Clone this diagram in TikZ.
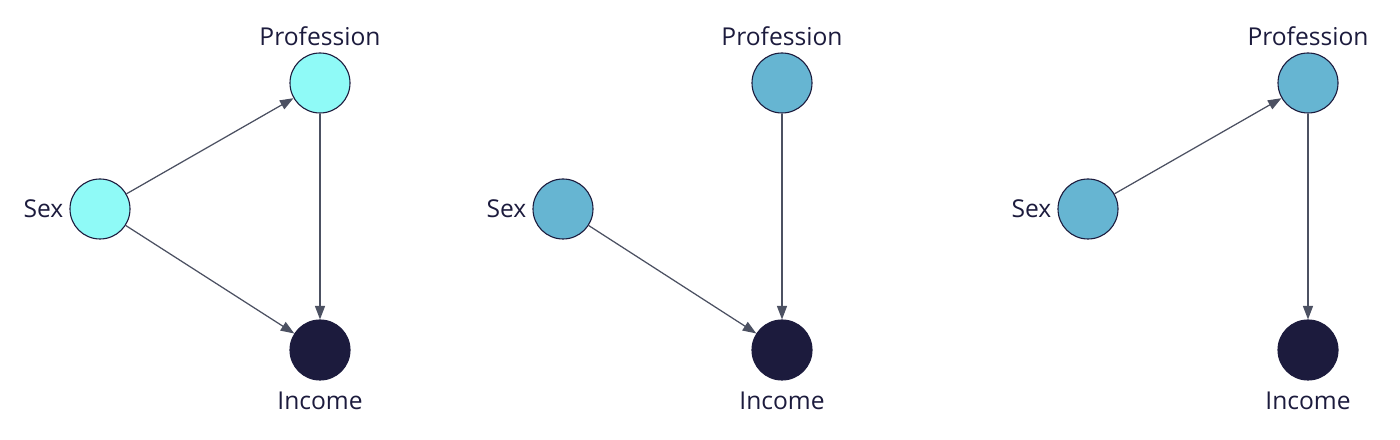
\documentclass[tikz,border=0pt]{standalone}
\usepackage{fontspec}
\setmainfont{Open Sans}
\usepackage{tikz}
\usetikzlibrary{arrows.meta}
\definecolor{navy}{HTML}{1C1B3D}
\definecolor{edgegray}{HTML}{4C5162}
\definecolor{cyanfill}{HTML}{8FFAF7}
\definecolor{bluefill}{HTML}{66B5D2}

\begin{document}
\begin{tikzpicture}[x=0.2mm, y=-0.2mm,
  var/.style={circle, draw=navy, line width=0.22mm, minimum size=12mm, inner sep=0pt},
  outcome/.style={var, fill=navy},
  lbl/.style={text=navy, font=\fontsize{14}{16}\selectfont},
  edge/.style={draw=edgegray, line width=0.25mm, -{Triangle[length=2.7mm, width=2mm]}}]

\useasboundingbox (0,0) rectangle (1400,440);

%% left graph
\node at (100,209) [var, fill=cyanfill, label={[lbl]left:Sex}] (sexA) {};
\node at (320,83) [var, fill=cyanfill, label={[lbl]above:Profession}] (profA) {};
\node at (320,350) [outcome, label={[lbl, label distance=1mm]below:Income}] (incA) {};

%% middle graph
\node at (563,209) [var, fill=bluefill, label={[lbl]left:Sex}] (sexB) {};
\node at (782,83) [var, fill=bluefill, label={[lbl]above:Profession}] (profB) {};
\node at (782,350) [outcome, label={[lbl, label distance=1mm]below:Income}] (incB) {};

%% right graph
\node at (1088,209) [var, fill=bluefill, label={[lbl]left:Sex}] (sexC) {};
\node at (1308,83) [var, fill=bluefill, label={[lbl]above:Profession}] (profC) {};
\node at (1308,350) [outcome, label={[lbl, label distance=1mm]below:Income}] (incC) {};

\draw [edge] (sexA) -- (profA);
\draw [edge] (sexA) -- (incA);
\draw [edge] (profA) -- (incA);

\draw [edge] (sexB) -- (incB);
\draw [edge] (profB) -- (incB);

\draw [edge] (sexC) -- (profC);
\draw [edge] (profC) -- (incC);

\end{tikzpicture}
\end{document}
